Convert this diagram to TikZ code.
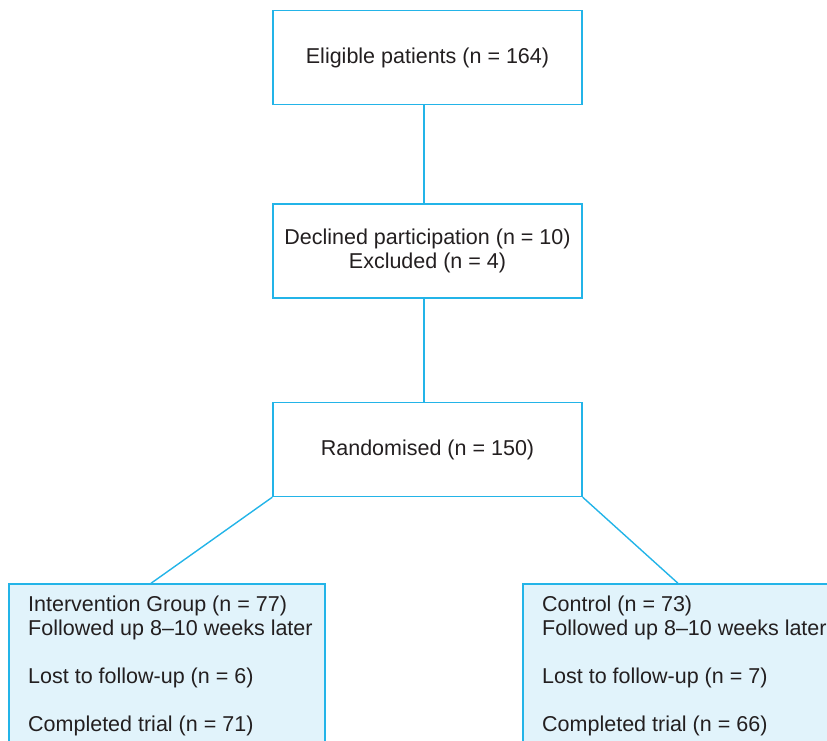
\documentclass[tikz,border=0pt]{standalone}
\usepackage{fontspec}
\setmainfont{Liberation Sans}
\definecolor{boxline}{RGB}{35,180,232}
\definecolor{boxfill}{RGB}{225,243,251}
\definecolor{txt}{RGB}{35,31,32}
\begin{document}
\begin{tikzpicture}[x=1pt,y=1pt,
  flowbox/.style={draw=boxline, line width=1.4pt, fill=white, minimum width=309pt, minimum height=94pt, inner sep=0pt, align=center, text=txt, font=\fontsize{21.5}{24}\selectfont},
  armbox/.style={draw=boxline, line width=1.4pt, fill=boxfill, minimum width=316pt, minimum height=200pt, inner sep=0pt},
  armtext/.style={anchor=base west, align=left, inner sep=0pt, text=txt, font=\fontsize{21.5}{24}\selectfont},
  link/.style={draw=boxline, line width=1.4pt}]
\useasboundingbox (0,0) rectangle (827,-741);
\clip (0,0) rectangle (827,-741);
\node[flowbox] (elig) at (427.5,-57.5) {Eligible patients (n = 164)};
\node[flowbox] (decl) at (427.5,-251) {Declined participation (n = 10)\\Excluded (n = 4)};
\node[flowbox] (rand) at (427.5,-449.5) {Randomised (n = 150)};
\node[armbox] (left) at (167,-684) {};
\node[armbox] (right) at (681,-684) {};
\draw[link] ([xshift=-3.5pt]elig.south) -- ([xshift=-3.5pt]decl.north);
\draw[link] ([xshift=-3.5pt]decl.south) -- ([xshift=-3.5pt]rand.north);
\draw[link] (rand.south west) -- ([xshift=-16pt]left.north);
\draw[link] (rand.south east) -- ([xshift=-3pt]right.north);
\node[armtext] (lefttext) at (28,-731.7) {Intervention Group (n = 77)\\Followed up 8--10 weeks later\\[24pt]Lost to follow-up (n = 6)\\[24pt]Completed trial (n = 71)};
\node[armtext] (righttext) at (542,-731.7) {Control (n = 73)\\Followed up 8--10 weeks later\\[24pt]Lost to follow-up (n = 7)\\[24pt]Completed trial (n = 66)};
\end{tikzpicture}
\end{document}
